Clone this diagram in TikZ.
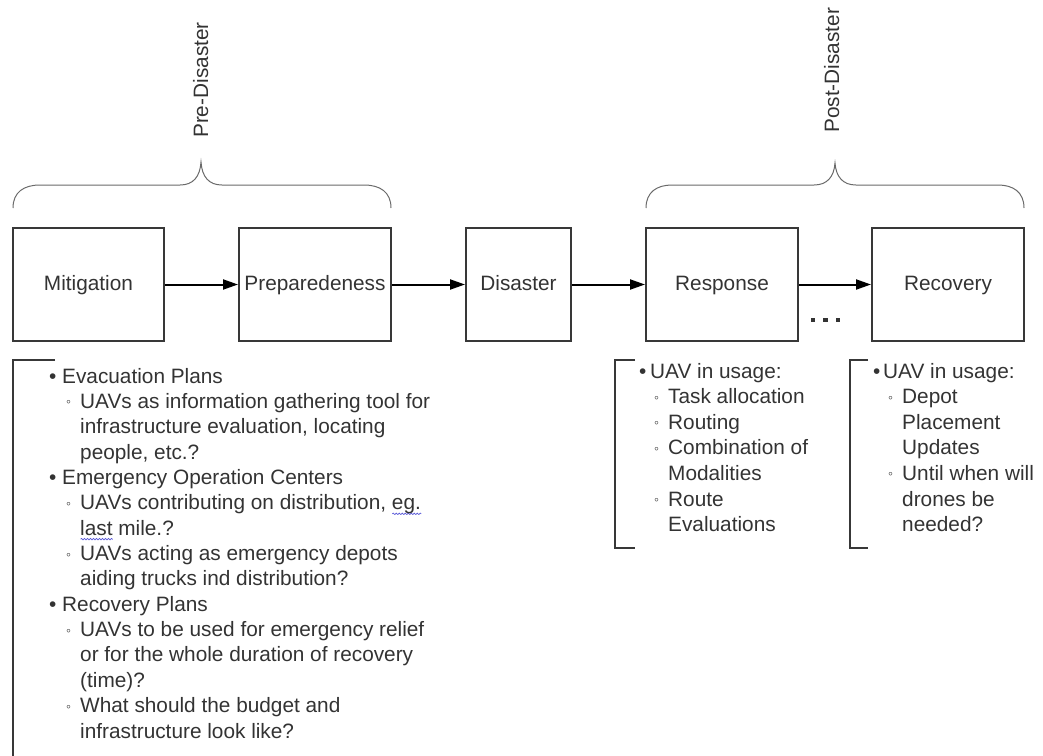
\documentclass[tikz,border=0pt]{standalone}
\usepackage{fontspec}
\setmainfont{Liberation Sans}
\usetikzlibrary{arrows.meta,decorations.pathmorphing}

\definecolor{ink}{HTML}{333333}
\definecolor{frame}{HTML}{383838}
\definecolor{bracecol}{HTML}{6A6A6A}
\definecolor{spell}{HTML}{5A5AD8}

% list helpers: first-level and second-level bullet lines
\newcommand\lone[2]{\makebox[#1][l]{\textbullet}#2}
\newcommand\subbul{\raisebox{1.5pt}{\fontsize{14}{14}\selectfont ◦}}
\newcommand\ltwo[3]{\hspace*{#1}\makebox[#2][l]{\subbul}#3}
\newcommand\lcont[2]{\hspace*{#1}#2}
% wavy spell-check underline
\newlength\spellw
\newsavebox\spellbox
\newcommand\spellmark[1]{\sbox\spellbox{#1}\setlength\spellw{\wd\spellbox}%
  \rlap{\raisebox{-4pt}{\tikz[baseline=0pt]\draw[spell,line width=0.7pt,decorate,
    decoration={snake,amplitude=0.7pt,segment length=3pt}] (0pt,0pt) -- (\spellw,0pt);}}%
  \usebox\spellbox}

\begin{document}
\begin{tikzpicture}[x=1pt,y=-1pt,
  every node/.style={font=\fontsize{20.8}{25.4}\selectfont, text=ink},
  stage/.style={draw=frame, line width=2pt, minimum height=113pt,
    inner sep=0pt, text height=15pt, text depth=4pt},
  flow/.style={draw=black, line width=2pt, -{Triangle[length=15pt,width=10pt]}},
  brace/.style={draw=bracecol, line width=1pt},
  bracket/.style={draw=frame, line width=2pt},
  listbox/.style={anchor=base west, inner sep=0pt, align=left},
]
\useasboundingbox (0,0) rectangle (1043,755);

% phase boxes
\node[stage, minimum width=151pt] (mit)  at (88.5,284.5) {Mitigation};
\node[stage, minimum width=152pt] (prep) at (315,284.5)  {Preparedeness};
\node[stage, minimum width=105pt] (dis)  at (518.5,284.5) {Disaster};
\node[stage, minimum width=152pt] (resp) at (722,284.5)  {Response};
\node[stage, minimum width=152pt] (rec)  at (948,284.5)  {Recovery};

% flow between phases
\draw[flow] (mit) -- (prep);
\draw[flow] (prep) -- (dis);
\draw[flow] (dis) -- (resp);
\draw[flow] (resp) -- (rec);

% ellipsis under the last arrow
\fill[ink] (810.75,317.75) rectangle +(4.5,4.5);
\fill[ink] (823.25,317.75) rectangle +(4.5,4.5);
\fill[ink] (835.75,317.75) rectangle +(4.5,4.5);

% phase groupings
\draw[brace] (13,208) .. controls (13,192) and (24,185) .. (40,185) -- (180,185)
  .. controls (193,185) and (200,177) .. (201,162)
  .. controls (202,177) and (209,185) .. (222,185) -- (364,185)
  .. controls (380,185) and (391,192) .. (391,208);
\node[rotate=90, anchor=base west, inner sep=0pt] (pre) at (208,138) {Pre-Disaster};

\draw[brace] (646,208) .. controls (646,192) and (657,185) .. (672,185) -- (814,185)
  .. controls (827,185) and (834,177) .. (835,163)
  .. controls (836,177) and (843,185) .. (856,185) -- (998,185)
  .. controls (1013,185) and (1024,192) .. (1024,208);
\node[rotate=90, anchor=base west, inner sep=0pt] (post) at (839,133) {Post-Disaster};

% notes brackets
\draw[bracket] (55,360) -- (13,360) -- (13,756);
\draw[bracket] (635,360) -- (615,360) -- (615,548) -- (635,548);
\draw[bracket] (868,360) -- (850,360) -- (850,548) -- (868,548);

% notes
\node[listbox] (prenotes) at (49,383) {\parbox[t]{430pt}{\raggedright\baselineskip=25.36pt
\lone{13pt}{Evacuation Plans}\\
\ltwo{17pt}{14pt}{UAVs as information gathering tool for}\\
\lcont{31pt}{infrastructure evaluation, locating}\\
\lcont{31pt}{people, etc.?}\\
\lone{13pt}{Emergency Operation Centers}\\
\ltwo{17pt}{14pt}{UAVs contributing on distribution, \spellmark{eg.}}\\
\lcont{31pt}{\spellmark{last} mile.?}\\
\ltwo{17pt}{14pt}{UAVs acting as emergency depots}\\
\lcont{31pt}{aiding trucks ind distribution?}\\
\lone{13pt}{Recovery Plans}\\
\ltwo{17pt}{14pt}{UAVs to be used for emergency relief}\\
\lcont{31pt}{or for the whole duration of recovery}\\
\lcont{31pt}{(time)?}\\
\ltwo{17pt}{14pt}{What should the budget and}\\
\lcont{31pt}{infrastructure look like?}}};

\node[listbox] (respnotes) at (639,378) {\parbox[t]{200pt}{\raggedright\baselineskip=25.6pt
\lone{11pt}{UAV in usage:}\\
\ltwo{15pt}{14pt}{Task allocation}\\
\ltwo{15pt}{14pt}{Routing}\\
\ltwo{15pt}{14pt}{Combination of}\\
\lcont{29pt}{Modalities}\\
\ltwo{15pt}{14pt}{Route}\\
\lcont{29pt}{Evaluations}}};

\node[listbox] (recnotes) at (873,378) {\parbox[t]{170pt}{\raggedright\baselineskip=25.6pt
\lone{10pt}{UAV in usage:}\\
\ltwo{15pt}{14pt}{Depot}\\
\lcont{29pt}{Placement}\\
\lcont{29pt}{Updates}\\
\ltwo{15pt}{14pt}{Until when will}\\
\lcont{29pt}{drones be}\\
\lcont{29pt}{needed?}}};
\end{tikzpicture}
\end{document}
